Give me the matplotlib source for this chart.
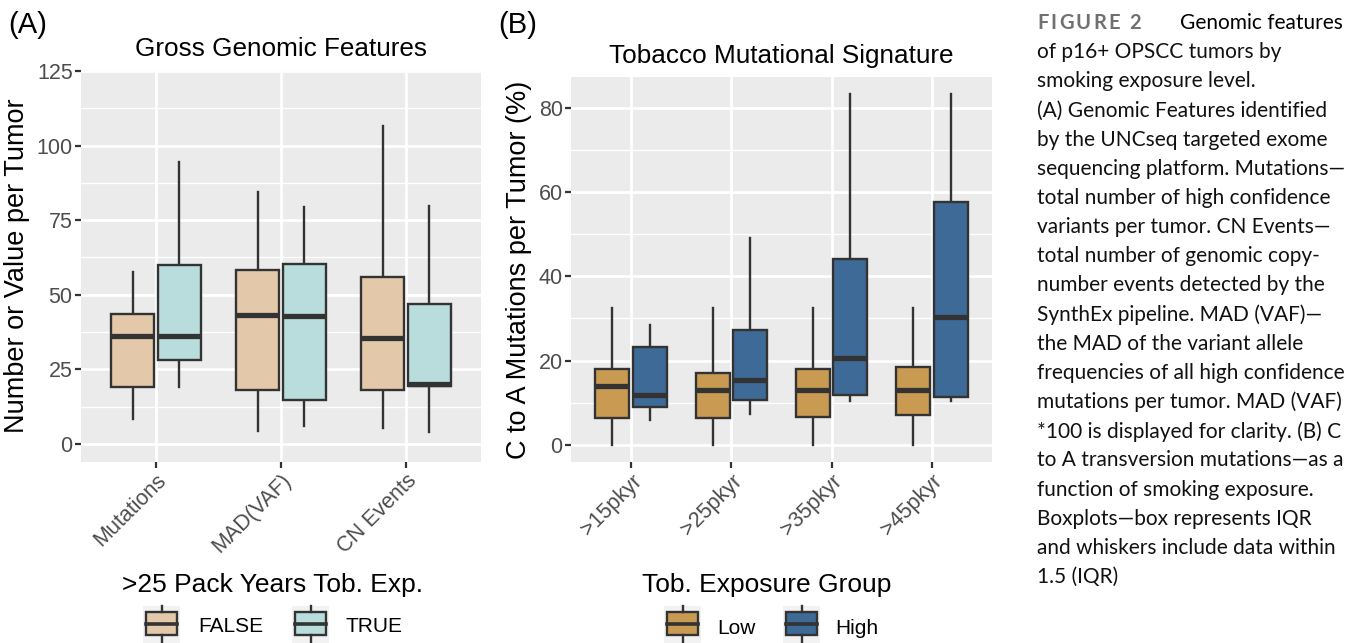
import matplotlib
matplotlib.use("Agg")
import matplotlib.pyplot as plt
from matplotlib.patches import Rectangle

# ---- data ----
feat_names = ["Mutations", "MAD(VAF)", "CN Events"]
# FALSE / TRUE groups: whisker low, q1, median, q3, whisker high
feat_false = {"lo": [8.3, 4.5, 5.3], "q1": [19.0, 18.2, 18.2], "med": [36.2, 43.1, 35.6],
              "q3": [43.6, 58.3, 55.9], "hi": [57.7, 84.4, 106.7]}
feat_true = {"lo": [19.0, 5.9, 4.1], "q1": [28.0, 14.7, 19.6], "med": [36.2, 42.8, 20.0],
             "q3": [60.0, 60.2, 46.9], "hi": [94.6, 79.4, 79.6]}

exp_names = [">15pkyr", ">25pkyr", ">35pkyr", ">45pkyr"]
exp_low = {"lo": [0, 0, 0, 0], "q1": [6.3, 6.3, 6.6, 7.0], "med": [14.0, 13.0, 13.0, 13.0],
           "q3": [18.1, 17.1, 18.1, 18.4], "hi": [32.5, 32.5, 32.5, 32.5]}
exp_high = {"lo": [5.8, 7.3, 10.3, 10.3], "q1": [9.0, 10.6, 11.8, 11.3], "med": [11.8, 15.4, 20.5, 30.4],
            "q3": [23.1, 27.2, 44.1, 57.7], "hi": [28.5, 49.0, 83.2, 83.2]}

caption_lines = [
    "of p16+ OPSCC tumors by",
    "smoking exposure level.",
    "(A) Genomic Features identified",
    "by the UNCseq targeted exome",
    "sequencing platform. Mutations\u2014",
    "total number of high confidence",
    "variants per tumor. CN Events\u2014",
    "total number of genomic copy-",
    "number events detected by the",
    "SynthEx pipeline. MAD (VAF)\u2014",
    "the MAD of the variant allele",
    "frequencies of all high confidence",
    "mutations per tumor. MAD (VAF)",
    "*100 is displayed for clarity. (B) C",
    "to A transversion mutations\u2014as a",
    "function of smoking exposure.",
    "Boxplots\u2014box represents IQR",
    "and whiskers include data within",
    "1.5 (IQR)",
]

FALSE_COL = "#E3C9A9"
TRUE_COL = "#B9DCDC"
LOW_COL = "#C89A52"
HIGH_COL = "#3D6A96"
EDGE = "#333333"
PANEL = "#EBEBEB"

plt.rcParams['font.family'] = ['Liberation Sans', 'DejaVu Sans']

W, H = 1365, 643
fig = plt.figure(figsize=(W / 100, H / 100), dpi=100)


def stats_list(d):
    out = []
    for i in range(len(d["med"])):
        out.append({"whislo": d["lo"][i], "q1": d["q1"][i], "med": d["med"][i],
                    "q3": d["q3"][i], "whishi": d["hi"][i], "fliers": []})
    return out


def draw_boxes(ax, d, offset, color):
    n = len(d["med"])
    pos = [i + 1 + offset for i in range(n)]
    bp = ax.bxp(stats_list(d), positions=pos, widths=0.34, showcaps=False,
                showfliers=False, patch_artist=True, manage_ticks=False,
                boxprops=dict(facecolor=color, edgecolor=EDGE, linewidth=1.7),
                medianprops=dict(color=EDGE, linewidth=3.8, solid_capstyle='butt'),
                whiskerprops=dict(color=EDGE, linewidth=1.7))
    for b in bp["boxes"]:
        b.set_zorder(3)
    for m in bp["medians"]:
        m.set_zorder(4)
    return bp


def gg_axes(rect, ylim, major, minor, ncat):
    ax = fig.add_axes(rect)
    ax.set_facecolor(PANEL)
    ax.set_xlim(0.4, ncat + 0.6)
    ax.set_ylim(*ylim)
    ax.set_yticks(major)
    ax.set_yticks(minor, minor=True)
    ax.set_xticks(range(1, ncat + 1))
    ax.grid(which='major', color='white', linewidth=2.0)
    ax.grid(which='minor', axis='y', color='white', linewidth=1.0)
    ax.set_axisbelow(True)
    for s in ax.spines.values():
        s.set_visible(False)
    ax.tick_params(which='major', length=4, width=1.6, color=EDGE,
                   labelsize=15.5, labelcolor='#4D4D4D', pad=2)
    ax.tick_params(which='minor', length=0)
    return ax


# ---- panel A ----
axA = gg_axes([81 / W, 1 - 462 / H, 400 / W, 392 / H], (-6.0, 125.3),
              [0, 25, 50, 75, 100, 125], [12.5, 37.5, 62.5, 87.5, 112.5], 3)
draw_boxes(axA, feat_false, -0.1875, FALSE_COL)
draw_boxes(axA, feat_true, 0.1875, TRUE_COL)
axA.set_xticklabels(feat_names, rotation=45, ha='right', va='top', rotation_mode='anchor')
axA.set_ylabel("Number or Value per Tumor", fontsize=19.5, labelpad=5)
axA.set_title("Gross Genomic Features", fontsize=18.8, pad=10)

# ---- panel B ----
axB = gg_axes([571 / W, 1 - 462.3 / H, 421 / W, 385.6 / H], (-4.16, 87.4),
              [0, 20, 40, 60, 80], [10, 30, 50, 70], 4)
draw_boxes(axB, exp_low, -0.1875, LOW_COL)
draw_boxes(axB, exp_high, 0.1875, HIGH_COL)
axB.set_xticklabels(exp_names, rotation=45, ha='right', va='top', rotation_mode='anchor')
axB.set_ylabel("C to A Mutations per Tumor (%)", fontsize=19.5, labelpad=5)
axB.set_title("Tobacco Mutational Signature", fontsize=18.8, pad=10)

# ---- overlay in pixel coords for panel tags, legends, caption ----
lax = fig.add_axes([0, 0, 1, 1])
lax.set_xlim(0, W)
lax.set_ylim(H, 0)
lax.axis('off')

lax.text(8, 25, "(A)", fontsize=21, ha='left', va='center')
lax.text(498, 25, "(B)", fontsize=21, ha='left', va='center')


def legend_key(x, color):
    y0, y1 = 606, 646
    lax.add_patch(Rectangle((x, y0), 37, y1 - y0, facecolor='#F2F2F2', edgecolor='none'))
    cx = x + 18.5
    lax.plot([cx, cx], [y0, 612], color=EDGE, lw=1.7)
    lax.plot([cx, cx], [635, y1], color=EDGE, lw=1.7)
    lax.add_patch(Rectangle((x + 3, 612), 31, 23, facecolor=color, edgecolor=EDGE, lw=1.7))
    lax.plot([x + 3, x + 34], [623.5, 623.5], color=EDGE, lw=2.6)


lax.text(273, 585, ">25 Pack Years Tob. Exp.", fontsize=19, ha='center', va='center')
legend_key(143, FALSE_COL)
lax.text(198, 626, "FALSE", fontsize=15, ha='left', va='center')
legend_key(292, TRUE_COL)
lax.text(345, 626, "TRUE", fontsize=15, ha='left', va='center')

lax.text(767, 585, "Tob. Exposure Group", fontsize=19, ha='center', va='center')
legend_key(664, LOW_COL)
lax.text(717, 628, "Low", fontsize=15, ha='left', va='center')
legend_key(783, HIGH_COL)
lax.text(835, 628, "High", fontsize=15, ha='left', va='center')

# caption
cap_x = 1037
line0 = 23
step = (577 - 23) / len(caption_lines)
fig.canvas.draw()
rend = fig.canvas.get_renderer()
xx = cap_x
for ch in "FIGURE 2":
    t = lax.text(xx, line0, ch, fontsize=14.5, family='Lato', weight='bold',
                 color='#707070', ha='left', va='center')
    bb = t.get_window_extent(renderer=rend)
    xx += bb.width + 2.2
lax.text(1180, line0, "Genomic features", fontsize=15, family='Lato', ha='left', va='center')
for i, line in enumerate(caption_lines):
    lax.text(cap_x, line0 + step * (i + 1), line, fontsize=15, family='Lato',
             color='#111111', ha='left', va='center')

fig.savefig("out.png", dpi=100)
